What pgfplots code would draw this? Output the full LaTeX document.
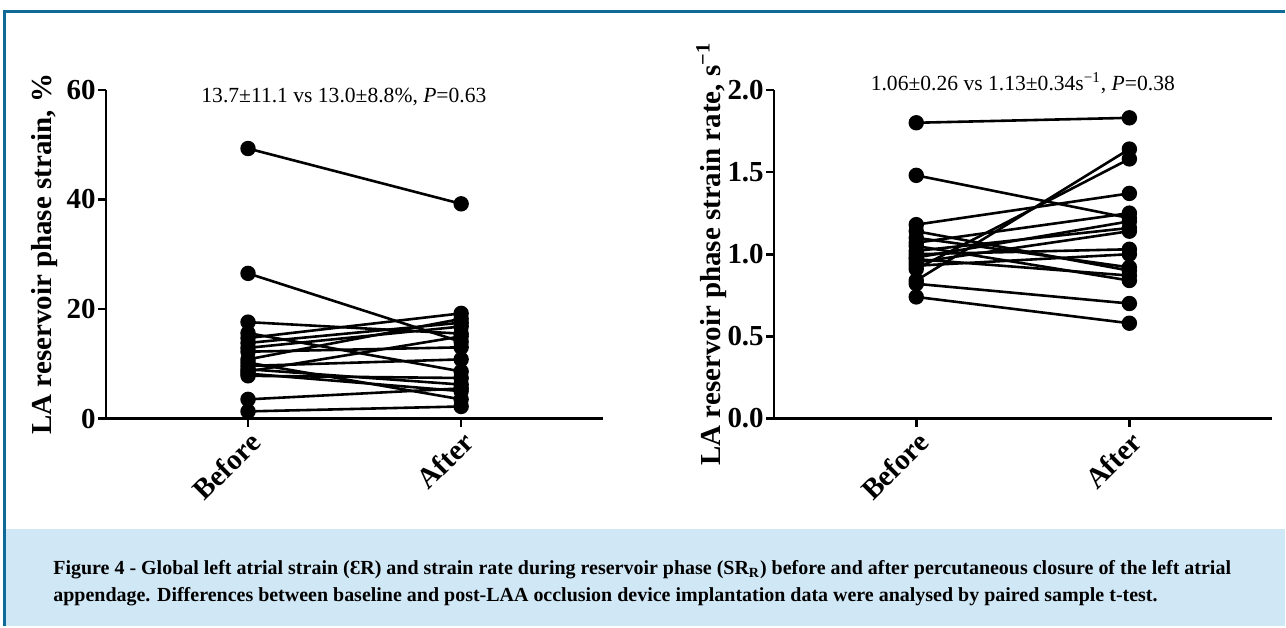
\documentclass[border=0pt]{standalone}
\usepackage{fontspec}
\setmainfont{Liberation Serif}
\usepackage{pgfplots}
\pgfplotsset{compat=1.18}

\definecolor{frameblue}{RGB}{16,106,152}
\definecolor{capbg}{RGB}{208,231,246}

\pgfplotsset{
  pairaxis/.style={
    scale only axis,
    width=249pt, height=164.5pt,
    axis x line*=bottom, axis y line*=left,
    xmin=-0.667, xmax=1.667,
    xtick={0,1}, xticklabels={Before,After},
    tick align=outside, major tick length=4pt,
    axis line style={line width=1.3pt},
    major tick style={line width=1.3pt, black},
    xticklabel style={rotate=45, anchor=north east, inner sep=1pt,
      font=\fontsize{14.5}{14.5}\selectfont\bfseries},
    yticklabel style={font=\fontsize{14.5}{14.5}\selectfont\bfseries, inner sep=1pt},
    /pgf/number format/assume math mode=true,
    every axis y label/.style={at={(rel axis cs:0,0.5)}, rotate=90, anchor=base,
      yshift=27pt, font=\fontsize{14.5}{14.5}\selectfont\bfseries},
    clip=false,
  },
  pr/.style={black, line width=1.3pt, mark=*, mark size=3.2pt},
}

\begin{document}
\begin{tikzpicture}
\path[fill=white] (0pt,0pt) rectangle (643pt,313.5pt);
\fill[capbg] (3pt,0pt) rectangle (643pt,48.5pt);
\draw[frameblue, line width=1.5pt] (2.5pt,0pt) -- (2.5pt,307.5pt) -- (643pt,307.5pt);

\node[anchor=base west, inner sep=0pt, font=\fontsize{10}{12}\selectfont\bfseries] at (26.5pt,26pt)
  {Figure 4 - Global left atrial strain (ƐR) and strain rate during reservoir phase (SR\textsubscript{R}) before and after percutaneous closure of the left atrial};
\node[anchor=base west, inner sep=0pt, font=\fontsize{10}{12}\selectfont\bfseries] at (26.5pt,12.3pt)
  {appendage. Differences between baseline and post-LAA occlusion device implantation data were analysed by paired sample t-test.};

% left panel: strain
\begin{axis}[pairaxis, at={(53pt,104pt)}, anchor=south west,
  ymin=0, ymax=60, ytick={0,20,40,60},
  ylabel={LA reservoir phase strain, \%}]
\addplot[pr] coordinates {(0,49.3) (1,39.2)};
\addplot[pr] coordinates {(0,26.5) (1,14.0)};
\addplot[pr] coordinates {(0,17.6) (1,15.5)};
\addplot[pr] coordinates {(0,15.6) (1,8.6)};
\addplot[pr] coordinates {(0,14.7) (1,19.2)};
\addplot[pr] coordinates {(0,13.8) (1,17.5)};
\addplot[pr] coordinates {(0,12.9) (1,16.8)};
\addplot[pr] coordinates {(0,12.2) (1,13.0)};
\addplot[pr] coordinates {(0,10.8) (1,18.2)};
\addplot[pr] coordinates {(0,10.2) (1,3.5)};
\addplot[pr] coordinates {(0,9.6) (1,10.8)};
\addplot[pr] coordinates {(0,9.0) (1,6.2)};
\addplot[pr] coordinates {(0,8.6) (1,15.0)};
\addplot[pr] coordinates {(0,8.2) (1,5.0)};
\addplot[pr] coordinates {(0,7.8) (1,7.4)};
\addplot[pr] coordinates {(0,3.5) (1,5.5)};
\addplot[pr] coordinates {(0,1.3) (1,2.2)};
\node[font=\fontsize{10.8}{11}\selectfont] at (axis cs:0.45,58.7)
  {13.7±11.1 vs 13.0±8.8\%, \textit{P}=0.63};
\end{axis}

% right panel: strain rate
\begin{axis}[pairaxis, at={(387.5pt,104pt)}, anchor=south west,
  ymin=0, ymax=2, ytick={0,0.5,1,1.5,2},
  yticklabel style={/pgf/number format/.cd, fixed, fixed zerofill, precision=1},
  ylabel={LA reservoir phase strain rate, s\textsuperscript{−1}}]
\addplot[pr] coordinates {(0,1.80) (1,1.83)};
\addplot[pr] coordinates {(0,1.48) (1,1.22)};
\addplot[pr] coordinates {(0,1.18) (1,1.37)};
\addplot[pr] coordinates {(0,1.14) (1,0.90)};
\addplot[pr] coordinates {(0,1.10) (1,0.92)};
\addplot[pr] coordinates {(0,1.07) (1,1.25)};
\addplot[pr] coordinates {(0,1.05) (1,0.84)};
\addplot[pr] coordinates {(0,1.02) (1,1.16)};
\addplot[pr] coordinates {(0,1.00) (1,1.03)};
\addplot[pr] coordinates {(0,0.98) (1,1.20)};
\addplot[pr] coordinates {(0,0.97) (1,0.87)};
\addplot[pr] coordinates {(0,0.95) (1,1.14)};
\addplot[pr] coordinates {(0,0.93) (1,1.00)};
\addplot[pr] coordinates {(0,0.91) (1,1.58)};
\addplot[pr] coordinates {(0,0.84) (1,1.64)};
\addplot[pr] coordinates {(0,0.82) (1,0.70)};
\addplot[pr] coordinates {(0,0.74) (1,0.58)};
\node[font=\fontsize{10.8}{11}\selectfont] at (axis cs:0.5,2.04)
  {1.06±0.26 vs 1.13±0.34s\textsuperscript{−1}, \textit{P}=0.38};
\end{axis}
\end{tikzpicture}
\end{document}
